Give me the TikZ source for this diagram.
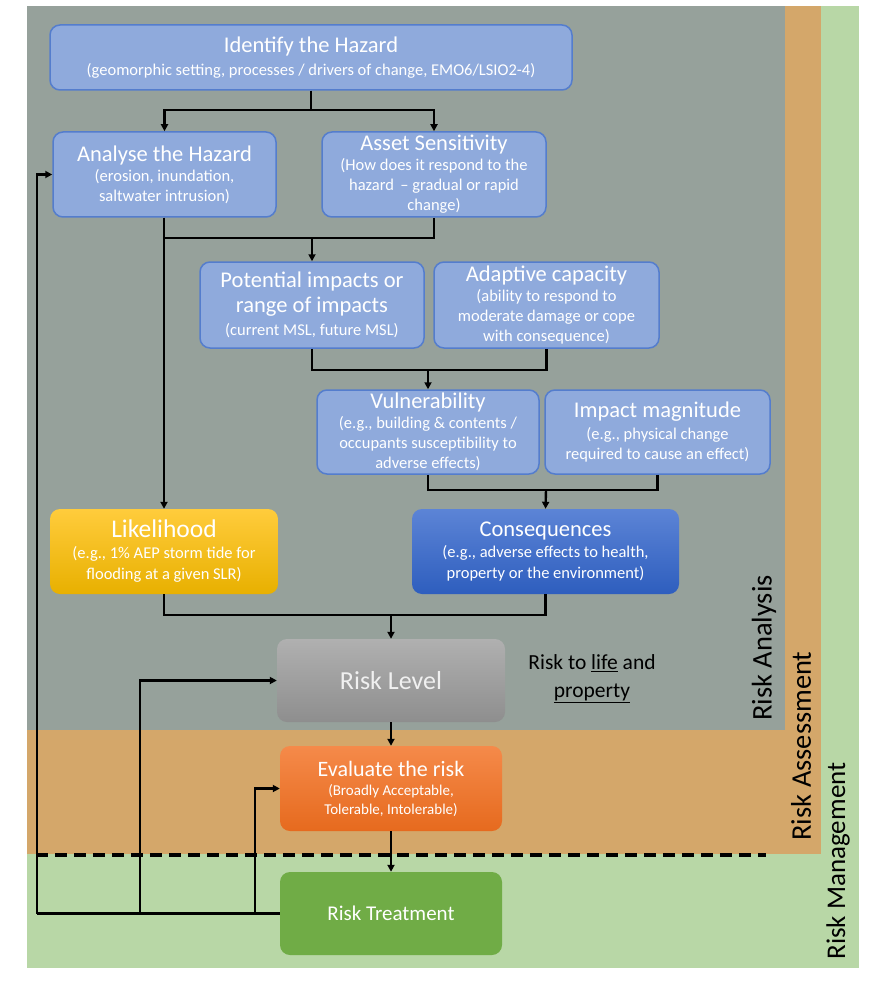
\documentclass[tikz,border=0pt]{standalone}
\usepackage{fontspec}
\setmainfont{Carlito}
\usetikzlibrary{arrows.meta}
\definecolor{bggray}{RGB}{150,161,155}
\definecolor{bgorange}{RGB}{212,167,106}
\definecolor{bggreen}{RGB}{184,215,166}
\definecolor{boxblue}{RGB}{143,170,220}
\definecolor{boxblueline}{RGB}{84,125,205}
\definecolor{ylwtop}{RGB}{255,204,60}
\definecolor{ylwbot}{RGB}{232,176,0}
\definecolor{bluetop}{RGB}{92,132,214}
\definecolor{bluebot}{RGB}{46,94,190}
\definecolor{graytop}{RGB}{176,176,176}
\definecolor{graybot}{RGB}{142,142,142}
\definecolor{orgtop}{RGB}{245,138,74}
\definecolor{orgbot}{RGB}{230,106,30}
\definecolor{greenbox}{RGB}{112,172,70}
\definecolor{lightwhite}{RGB}{240,240,240}
\newcommand{\ttlsz}{\fontsize{22.5}{24}\selectfont}
\begin{document}
\begin{tikzpicture}[x=1pt,y=-1pt,
  bluebox/.style={draw=boxblueline, line width=1.5pt, fill=boxblue, rounded corners=10pt,
    text=white, align=center, inner sep=2pt, font=\fontsize{16.5}{20}\selectfont},
  gradbox/.style={draw=none, rounded corners=10pt, text=white, align=center, inner sep=2pt,
    font=\fontsize{16.5}{21}\selectfont},
  conn/.style={line width=2.4pt, black},
  arr/.style={conn, -{Triangle[length=7pt,width=7pt]}},
]
\useasboundingbox (0,0) rectangle (870,984);
\fill[bggreen] (27,6) rectangle (859,968);
\fill[bgorange] (27,6) rectangle (821,854);
\fill[bggray] (27,6) rectangle (785,730);
\draw[line width=3.5pt, dash pattern=on 12pt off 7pt] (36,855) -- (766,855);

% nodes
\node[bluebox, minimum width=522pt, minimum height=65pt] (ident) at (311,57.5)
  {{\ttlsz Identify the Hazard}\\[3pt](geomorphic setting, processes / drivers of change, EMO6/LSIO2-4)};
\node[bluebox, minimum width=223pt, minimum height=85pt] (analyse) at (164.5,174.5)
  {{\ttlsz Analyse the Hazard}\\(erosion, inundation,\\saltwater intrusion)};
\node[bluebox, minimum width=224pt, minimum height=85pt] (asset) at (434,174.5)
  {{\ttlsz Asset Sensitivity}\\(How does it respond to the\\hazard \,-- gradual or rapid\\change)};
\node[bluebox, minimum width=224pt, minimum height=86pt] (potential) at (312,305)
  {{\ttlsz Potential impacts or}\\[5pt]{\ttlsz range of impacts}\\[3pt](current MSL, future MSL)};
\node[bluebox, minimum width=225pt, minimum height=86pt] (adaptive) at (546.5,305)
  {{\ttlsz Adaptive capacity}\\(ability to respond to\\moderate damage or cope\\with consequence)};
\node[bluebox, minimum width=222pt, minimum height=84pt] (vuln) at (428,432)
  {{\ttlsz Vulnerability}\\(e.g., building \& contents /\\occupants susceptibility to\\adverse effects)};
\node[bluebox, minimum width=225pt, minimum height=84pt] (impact) at (657.5,432)
  {{\ttlsz Impact magnitude}\\[2pt](e.g., physical change\\required to cause an effect)};
\node[gradbox, top color=ylwtop, bottom color=ylwbot, minimum width=228pt, minimum height=85pt] (likely) at (164,551.5)
  {{\fontsize{25.5}{26}\selectfont Likelihood}\\(e.g., 1\% AEP storm tide for\\flooding at a given SLR)};
\node[gradbox, top color=bluetop, bottom color=bluebot, minimum width=267pt, minimum height=85pt] (conseq) at (545.5,551.5)
  {{\ttlsz Consequences}\\(e.g., adverse effects to health,\\property or the environment)};
\node[gradbox, top color=graytop, bottom color=graybot, minimum width=228pt, minimum height=83pt, text=lightwhite] (risklevel) at (391,680.5)
  {\fontsize{26}{28}\selectfont Risk Level};
\node[gradbox, top color=orgtop, bottom color=orgbot, minimum width=222pt, minimum height=85pt, font=\fontsize{15}{19}\selectfont] (evaluate) at (391,788.5)
  {{\fontsize{22}{23}\selectfont Evaluate the risk}\\(Broadly Acceptable,\\Tolerable, Intolerable)};
\node[gradbox, fill=greenbox, minimum width=222pt, minimum height=83pt] (treat) at (391,913.5)
  {\fontsize{21}{22}\selectfont Risk Treatment};

% side text
\node[align=center, font=\fontsize{21.5}{28}\selectfont, text=black] (risktxt) at (592,679)
  {Risk to \underline{life} and\\\underline{property}};
\node[rotate=90, font=\fontsize{28.5}{30}\selectfont, text=black] (lblana) at (764,648) {Risk Analysis};
\node[rotate=90, font=\fontsize{28.5}{30}\selectfont, text=black] (lblass) at (801,746) {Risk Assessment};
\node[rotate=90, font=\fontsize{27}{30}\selectfont, text=black] (lblman) at (838,861) {Risk Management};

% coordinates
\coordinate (j1) at (311,110);
\coordinate (j2) at (312,238);
\coordinate (j3) at (428,370);
\coordinate (j4) at (546,490);
\coordinate (j5) at (391,615);

% connectors
\draw[conn] (ident.south) -- (j1);
\draw[arr] (j1) -| (analyse.north);
\draw[arr] (j1) -| (asset.north);
\draw[arr] (analyse.south -| likely.north) -- (likely.north);
\draw[conn] (analyse.south |- j2) -- (asset.south |- j2) -- (asset.south);
\draw[arr] (j2) -- (potential.north);
\draw[conn] (potential.south) |- (j3);
\draw[conn] (adaptive.south) |- (j3);
\draw[arr] (j3) -- (vuln.north);
\draw[conn] (vuln.south) |- (j4);
\draw[conn] (impact.south) |- (j4);
\draw[arr] (j4) -- (conseq.north);
\draw[conn] (likely.south) |- (j5);
\draw[conn] (conseq.south) |- (j5);
\draw[arr] (j5) -- (risklevel.north);
\draw[arr] (risklevel.south) -- (evaluate.north);
\draw[arr] (evaluate.south) -- (treat.north);

\coordinate (fbL) at (37,913.5);
\coordinate (fbM) at (140,913.5);
\coordinate (fbR) at (255,913.5);
\draw[conn] (treat.west) -- (fbL);
\draw[arr] (fbL) |- (analyse.west);
\draw[arr] (fbM) |- (risklevel.west);
\draw[arr] (fbR) |- (evaluate.west);
\end{tikzpicture}
\end{document}
